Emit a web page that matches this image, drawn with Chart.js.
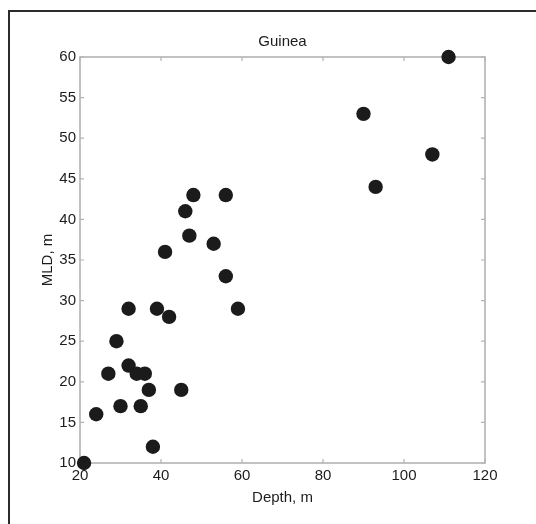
<!DOCTYPE html>
<html>
<head>
<meta charset="utf-8">
<title>Guinea</title>
<script src="https://cdn.jsdelivr.net/npm/chart.js@4/dist/chart.umd.min.js"></script>
<style>
  html, body { margin: 0; padding: 0; background: #fff; }
  #wrap { position: relative; width: 536px; height: 524px; overflow: hidden; }
  #frame {
    position: absolute; left: 8px; top: 10px; width: 700px; height: 700px;
    border-left: 2px solid #2b2b2b; border-top: 2px solid #2b2b2b;
  }
  #c { position: absolute; left: 0; top: 0; }
</style>
</head>
<body>
<div id="wrap">
  <div id="frame"></div>
  <canvas id="c" width="536" height="524"></canvas>
</div>
<script>
// Station depth (m) and mixed layer depth (m)
const depth = [21, 24, 27, 29, 30, 32, 32, 34, 36, 35, 37, 38, 39, 42, 45, 41, 46, 47, 48, 53, 56, 56, 59, 90, 93, 107, 111];
const mld   = [10, 16, 21, 25, 17, 29, 22, 21, 21, 17, 19, 12, 29, 28, 19, 36, 41, 38, 43, 37, 43, 33, 29, 53, 44, 48, 60];

const xTicks = [20, 40, 60, 80, 100, 120];
const yTicks = [10, 15, 20, 25, 30, 35, 40, 45, 50, 55, 60];

const FONT = '"Liberation Sans", Arial, Helvetica, sans-serif';
const TEXT = '#1c1c1c';
const AXIS = '#b3b3b3';

// Box around the plot area with inward tick marks on all four sides
const boxAxes = {
  id: 'boxAxes',
  beforeDatasetsDraw(chart) {
    const { ctx, chartArea: a, scales: { x, y } } = chart;
    const len = 4;
    ctx.save();
    ctx.strokeStyle = AXIS;
    ctx.lineWidth = 1.6;
    ctx.strokeRect(a.left, a.top, a.right - a.left, a.bottom - a.top);
    ctx.lineWidth = 1.2;
    ctx.beginPath();
    xTicks.forEach(v => {
      const px = x.getPixelForValue(v);
      ctx.moveTo(px, a.bottom); ctx.lineTo(px, a.bottom - len);
      ctx.moveTo(px, a.top); ctx.lineTo(px, a.top + len);
    });
    yTicks.forEach(v => {
      const py = y.getPixelForValue(v);
      ctx.moveTo(a.left, py); ctx.lineTo(a.left + len, py);
      ctx.moveTo(a.right, py); ctx.lineTo(a.right - len, py);
    });
    ctx.stroke();
    ctx.restore();
  }
};

new Chart(document.getElementById('c'), {
  type: 'scatter',
  data: {
    datasets: [{
      data: depth.map((d, i) => ({ x: d, y: mld[i] })),
      backgroundColor: '#1b1b1b',
      borderWidth: 0,
      pointRadius: 7.2,
      pointHoverRadius: 7.2,
      clip: false
    }]
  },
  options: {
    responsive: false,
    animation: false,
    events: [],
    layout: { padding: { left: 0, right: 51, top: 0, bottom: 0 } },
    plugins: {
      legend: { display: false },
      tooltip: { enabled: false },
      title: {
        display: true,
        fullSize: false,
        text: 'Guinea',
        color: TEXT,
        font: { family: FONT, size: 15, weight: 'normal', lineHeight: 1.2 },
        padding: { top: 33, bottom: 6 }
      }
    },
    scales: {
      x: {
        type: 'linear',
        min: 20, max: 120,
        afterFit(s) { s.height = 61; },
        grid: { display: false, drawTicks: false },
        border: { display: false },
        ticks: {
          stepSize: 20,
          padding: 4,
          color: TEXT,
          font: { family: FONT, size: 15 },
          maxRotation: 0,
          autoSkip: false
        },
        title: {
          display: true,
          text: 'Depth, m',
          color: TEXT,
          font: { family: FONT, size: 15, lineHeight: 1.2 },
          padding: { top: 0, bottom: 17 }
        }
      },
      y: {
        type: 'linear',
        min: 10, max: 60,
        afterFit(s) { s.width = 80; },
        grid: { display: false, drawTicks: false },
        border: { display: false },
        ticks: {
          stepSize: 5,
          padding: 4,
          color: TEXT,
          font: { family: FONT, size: 15 },
          autoSkip: false
        },
        title: {
          display: true,
          text: 'MLD, m',
          color: TEXT,
          font: { family: FONT, size: 15, lineHeight: 1.2 },
          padding: { top: 39, bottom: 0 }
        }
      }
    }
  },
  plugins: [boxAxes]
});
</script>
</body>
</html>
